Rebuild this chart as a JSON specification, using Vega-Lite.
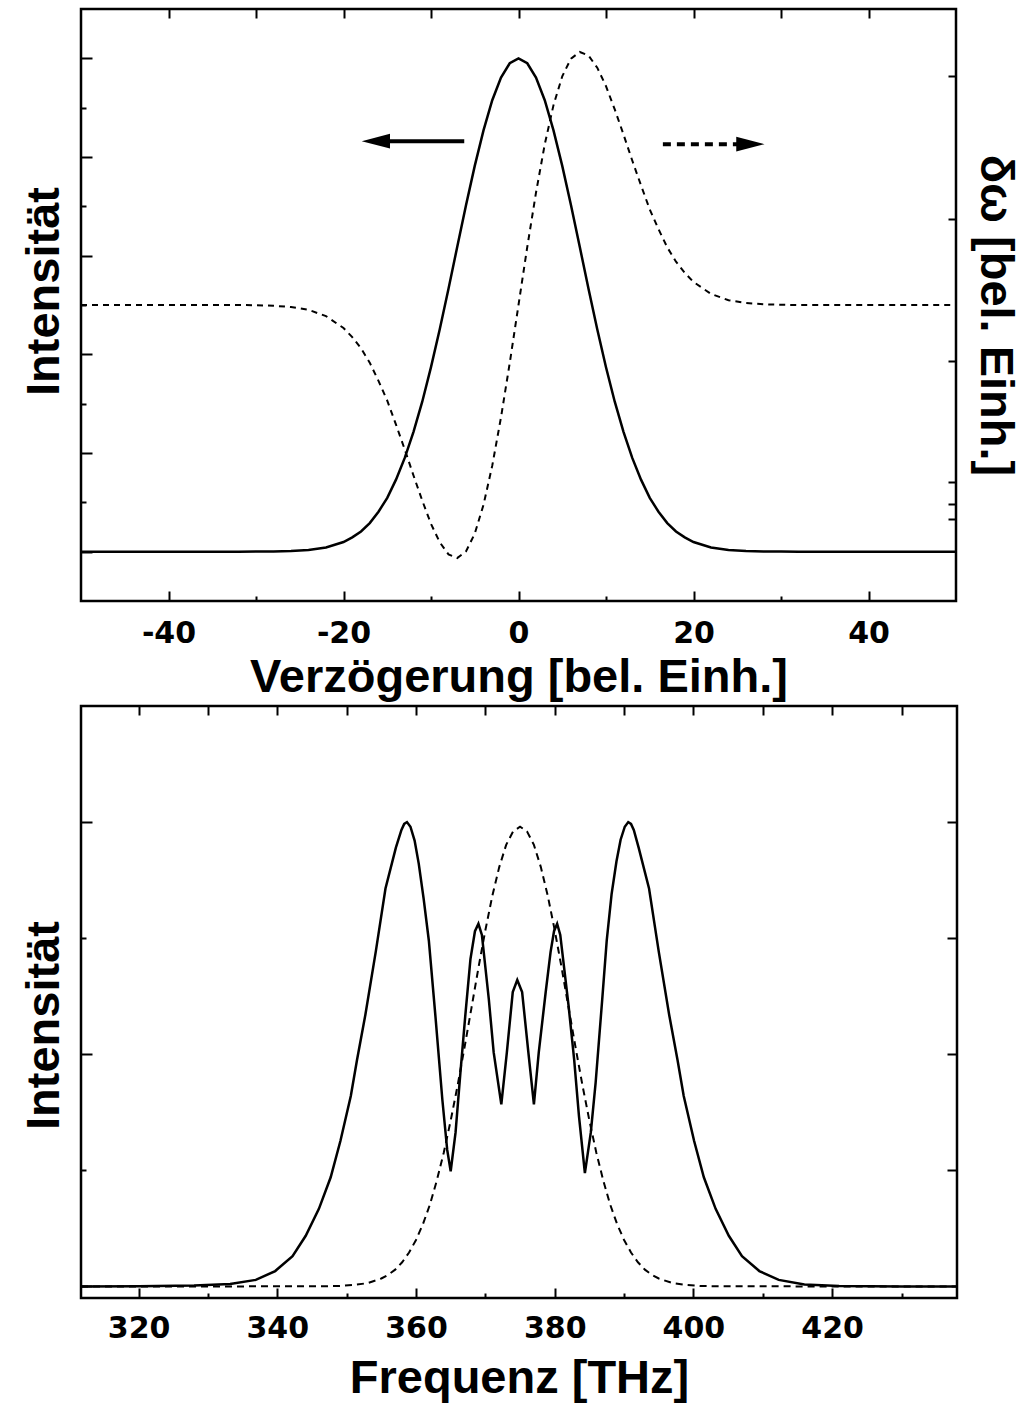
{
  "$schema": "https://vega.github.io/schema/vega-lite/v6.json",
  "padding": {"left": 18, "top": 6, "right": 5, "bottom": 5},
  "background": "white",
  "config": {
    "view": {"stroke": "black", "strokeWidth": 2.5},
    "axis": {
      "domain": false, "grid": false,
      "labelFont": "DejaVu Sans", "labelFontWeight": "bold", "labelFontSize": 30, "labelColor": "black",
      "titleFont": "Liberation Sans", "titleFontWeight": "bold", "titleFontSize": 47, "titleColor": "black",
      "tickColor": "black", "tickWidth": 2
    }
  },
  "datasets": {
    "puls": [
      {"t": -50, "I": 0, "dw": 0}, {"t": -45, "I": 0, "dw": 0}, {"t": -40, "I": 0, "dw": 0},
      {"t": -35, "I": 0, "dw": 0}, {"t": -32, "I": 0, "dw": 0}, {"t": -30, "I": 0.0001, "dw": -0.001},
      {"t": -28, "I": 0.0004, "dw": -0.003}, {"t": -26, "I": 0.0013, "dw": -0.008},
      {"t": -24, "I": 0.0035, "dw": -0.019}, {"t": -22, "I": 0.0086, "dw": -0.044},
      {"t": -20, "I": 0.0196, "dw": -0.091}, {"t": -19, "I": 0.029, "dw": -0.127},
      {"t": -18, "I": 0.041, "dw": -0.171}, {"t": -17, "I": 0.058, "dw": -0.228},
      {"t": -16, "I": 0.081, "dw": -0.300}, {"t": -15, "I": 0.109, "dw": -0.378},
      {"t": -14, "I": 0.146, "dw": -0.473}, {"t": -13, "I": 0.190, "dw": -0.571},
      {"t": -12, "I": 0.243, "dw": -0.674}, {"t": -11, "I": 0.304, "dw": -0.773},
      {"t": -10, "I": 0.374, "dw": -0.865}, {"t": -9, "I": 0.451, "dw": -0.938},
      {"t": -8, "I": 0.533, "dw": -0.986}, {"t": -7, "I": 0.618, "dw": -1.000},
      {"t": -6, "I": 0.702, "dw": -0.974}, {"t": -5, "I": 0.782, "dw": -0.904},
      {"t": -4, "I": 0.854, "dw": -0.790}, {"t": -3, "I": 0.915, "dw": -0.635},
      {"t": -2, "I": 0.961, "dw": -0.444}, {"t": -1, "I": 0.990, "dw": -0.229},
      {"t": 0, "I": 1.0, "dw": 0},
      {"t": 1, "I": 0.990, "dw": 0.229}, {"t": 2, "I": 0.961, "dw": 0.444},
      {"t": 3, "I": 0.915, "dw": 0.635}, {"t": 4, "I": 0.854, "dw": 0.790},
      {"t": 5, "I": 0.782, "dw": 0.904}, {"t": 6, "I": 0.702, "dw": 0.974},
      {"t": 7, "I": 0.618, "dw": 1.000}, {"t": 8, "I": 0.533, "dw": 0.986},
      {"t": 9, "I": 0.451, "dw": 0.938}, {"t": 10, "I": 0.374, "dw": 0.865},
      {"t": 11, "I": 0.304, "dw": 0.773}, {"t": 12, "I": 0.243, "dw": 0.674},
      {"t": 13, "I": 0.190, "dw": 0.571}, {"t": 14, "I": 0.146, "dw": 0.473},
      {"t": 15, "I": 0.109, "dw": 0.378}, {"t": 16, "I": 0.081, "dw": 0.300},
      {"t": 17, "I": 0.058, "dw": 0.228}, {"t": 18, "I": 0.041, "dw": 0.171},
      {"t": 19, "I": 0.029, "dw": 0.127}, {"t": 20, "I": 0.0196, "dw": 0.091},
      {"t": 22, "I": 0.0086, "dw": 0.044}, {"t": 24, "I": 0.0035, "dw": 0.019},
      {"t": 26, "I": 0.0013, "dw": 0.008}, {"t": 28, "I": 0.0004, "dw": 0.003},
      {"t": 30, "I": 0.0001, "dw": 0.001}, {"t": 32, "I": 0, "dw": 0},
      {"t": 35, "I": 0, "dw": 0}, {"t": 40, "I": 0, "dw": 0}, {"t": 45, "I": 0, "dw": 0},
      {"t": 50, "I": 0, "dw": 0}
    ],
    "schaefte": [
      {"t": -6.2, "I": 0.832, "art": "durchgezogen"},
      {"t": -14.9, "I": 0.832, "art": "durchgezogen"},
      {"t": 16.5, "I": 0.826, "art": "gestrichelt"},
      {"t": 25.1, "I": 0.826, "art": "gestrichelt"}
    ],
    "spitzen": [
      {"t": -16.3, "I": 0.832, "richtung": "links"},
      {"t": 26.5, "I": 0.826, "richtung": "rechts"}
    ],
    "spektrum": [
      {"f": 311.7, "I": 0}, {"f": 320, "I": 0.0005}, {"f": 328, "I": 0.002},
      {"f": 333.2, "I": 0.005}, {"f": 336.9, "I": 0.014}, {"f": 339.7, "I": 0.033},
      {"f": 342.2, "I": 0.065}, {"f": 344.1, "I": 0.109}, {"f": 346.0, "I": 0.167},
      {"f": 347.7, "I": 0.235}, {"f": 349.1, "I": 0.313}, {"f": 350.6, "I": 0.410},
      {"f": 351.5, "I": 0.488}, {"f": 352.7, "I": 0.585}, {"f": 354.2, "I": 0.721},
      {"f": 355.6, "I": 0.857}, {"f": 357.1, "I": 0.945}, {"f": 357.9, "I": 0.983},
      {"f": 358.3, "I": 0.996}, {"f": 358.7, "I": 1.0}, {"f": 359.2, "I": 0.99},
      {"f": 359.8, "I": 0.96}, {"f": 360.4, "I": 0.91}, {"f": 361.1, "I": 0.835},
      {"f": 361.85, "I": 0.745}, {"f": 362.8, "I": 0.582},
      {"f": 363.8, "I": 0.402}, {"f": 364.5, "I": 0.294}, {"f": 365.0, "I": 0.248},
      {"f": 365.7, "I": 0.331}, {"f": 366.4, "I": 0.460}, {"f": 367.1, "I": 0.582},
      {"f": 367.85, "I": 0.705}, {"f": 368.5, "I": 0.765}, {"f": 369.0, "I": 0.781},
      {"f": 369.5, "I": 0.757}, {"f": 370.5, "I": 0.618}, {"f": 371.2, "I": 0.504},
      {"f": 372.3, "I": 0.392}, {"f": 373.1, "I": 0.504}, {"f": 373.95, "I": 0.634},
      {"f": 374.6, "I": 0.660}, {"f": 375.3, "I": 0.634}, {"f": 376.2, "I": 0.504},
      {"f": 377.0, "I": 0.392}, {"f": 377.7, "I": 0.504}, {"f": 378.7, "I": 0.634},
      {"f": 379.4, "I": 0.720}, {"f": 379.9, "I": 0.765}, {"f": 380.35, "I": 0.781},
      {"f": 380.8, "I": 0.757}, {"f": 382.0, "I": 0.604},
      {"f": 382.8, "I": 0.489}, {"f": 383.5, "I": 0.366}, {"f": 384.35, "I": 0.244},
      {"f": 385.2, "I": 0.331}, {"f": 385.9, "I": 0.439}, {"f": 386.85, "I": 0.618},
      {"f": 387.5, "I": 0.745}, {"f": 388.2, "I": 0.845}, {"f": 388.9, "I": 0.915},
      {"f": 389.5, "I": 0.962}, {"f": 390.1, "I": 0.99}, {"f": 390.6, "I": 1.0},
      {"f": 391.0, "I": 0.996}, {"f": 391.4, "I": 0.983}, {"f": 392.1, "I": 0.945},
      {"f": 393.6, "I": 0.857}, {"f": 395.0, "I": 0.721}, {"f": 396.5, "I": 0.585},
      {"f": 397.7, "I": 0.488}, {"f": 398.6, "I": 0.410}, {"f": 400.1, "I": 0.313},
      {"f": 401.5, "I": 0.235}, {"f": 403.2, "I": 0.167}, {"f": 405.1, "I": 0.109},
      {"f": 407.0, "I": 0.065}, {"f": 409.5, "I": 0.033}, {"f": 412.3, "I": 0.014},
      {"f": 416.0, "I": 0.004}, {"f": 421.0, "I": 0.001}, {"f": 430.0, "I": 0},
      {"f": 438.0, "I": 0}
    ],
    "referenz": [
      {"f": 311.7, "I": 0}, {"f": 330, "I": 0}, {"f": 345, "I": 0.0001},
      {"f": 347, "I": 0.0003}, {"f": 349, "I": 0.001}, {"f": 351, "I": 0.003},
      {"f": 353, "I": 0.007}, {"f": 355, "I": 0.017}, {"f": 356, "I": 0.025},
      {"f": 357, "I": 0.036}, {"f": 358, "I": 0.052}, {"f": 359, "I": 0.073},
      {"f": 360, "I": 0.100}, {"f": 361, "I": 0.134}, {"f": 362, "I": 0.176},
      {"f": 363, "I": 0.228}, {"f": 364, "I": 0.288}, {"f": 365, "I": 0.357},
      {"f": 366, "I": 0.433}, {"f": 367, "I": 0.515}, {"f": 368, "I": 0.600},
      {"f": 369, "I": 0.686}, {"f": 370, "I": 0.767}, {"f": 371, "I": 0.841},
      {"f": 372, "I": 0.903}, {"f": 373, "I": 0.951}, {"f": 374, "I": 0.980},
      {"f": 375, "I": 0.990}, {"f": 376, "I": 0.980}, {"f": 377, "I": 0.951},
      {"f": 378, "I": 0.903}, {"f": 379, "I": 0.841}, {"f": 380, "I": 0.767},
      {"f": 381, "I": 0.686}, {"f": 382, "I": 0.600}, {"f": 383, "I": 0.515},
      {"f": 384, "I": 0.433}, {"f": 385, "I": 0.357}, {"f": 386, "I": 0.288},
      {"f": 387, "I": 0.228}, {"f": 388, "I": 0.176}, {"f": 389, "I": 0.134},
      {"f": 390, "I": 0.100}, {"f": 391, "I": 0.073}, {"f": 392, "I": 0.052},
      {"f": 393, "I": 0.036}, {"f": 394, "I": 0.025}, {"f": 395, "I": 0.017},
      {"f": 397, "I": 0.007}, {"f": 399, "I": 0.003}, {"f": 401, "I": 0.001},
      {"f": 403, "I": 0.0003}, {"f": 405, "I": 0.0001}, {"f": 420, "I": 0},
      {"f": 438, "I": 0}
    ]
  },
  "spacing": 1,
  "vconcat": [
    {
      "width": 875,
      "height": 592,
      "layer": [
        {
          "data": {"name": "puls"},
          "mark": {"type": "line", "color": "black", "strokeWidth": 2.5},
          "encoding": {
            "x": {"field": "t", "type": "quantitative",
              "scale": {"domain": [-50, 50], "nice": false, "zero": false},
              "axis": {"orient": "bottom", "values": [-40, -20, 0, 20, 40], "tickSize": -10,
                "labelExpr": "datum.value < 0 ? '-' + format(-datum.value, 'd') : format(datum.value, 'd')",
                "labelPadding": 27, "labelFlush": false, "title": "Verzögerung [bel. Einh.]", "titlePadding": 6}},
            "y": {"field": "I", "type": "quantitative",
              "scale": {"domain": [-0.1, 1.1], "nice": false, "zero": false},
              "axis": {"orient": "left", "labels": false, "values": [0, 0.2, 0.4, 0.6, 0.8, 1.0],
                "tickSize": -11, "title": "Intensität", "titlePadding": 12, "titleY": 282}}
          }
        },
        {
          "data": {"name": "puls"},
          "mark": {"type": "line", "color": "black", "strokeWidth": 2, "strokeDash": [6, 5]},
          "encoding": {
            "x": {"field": "t", "type": "quantitative",
              "scale": {"domain": [-50, 50], "nice": false, "zero": false},
              "axis": {"orient": "top", "labels": false, "values": [-40, -30, -20, -10, 0, 10, 20, 30, 40],
                "tickSize": -9, "title": null}},
            "y": {"field": "dw", "type": "quantitative",
              "scale": {"domain": [-1.17, 1.17], "nice": false, "zero": false},
              "axis": {"orient": "right", "labels": false, "values": [0.906, 0.341, -0.222, -0.7, -0.786, -0.844],
                "tickSize": -8, "title": "δω [bel. Einh.]", "titlePadding": 13, "titleY": 306}}
          }
        },
        {
          "data": {"name": "schaefte"},
          "mark": {"type": "line", "color": "black", "strokeWidth": 4},
          "encoding": {
            "x": {"field": "t", "type": "quantitative",
              "scale": {"domain": [-50, 50], "nice": false, "zero": false},
              "axis": {"orient": "bottom", "labels": false, "values": [-30, -10, 10, 30],
                "tickSize": -5, "title": null}},
            "y": {"field": "I", "type": "quantitative",
              "scale": {"domain": [-0.1, 1.1], "nice": false, "zero": false},
              "axis": {"orient": "left", "labels": false, "values": [0.1, 0.3, 0.5, 0.7, 0.9],
                "tickSize": -5, "title": null}},
            "detail": {"field": "art", "type": "nominal"},
            "strokeDash": {"field": "art", "type": "nominal",
              "scale": {"domain": ["durchgezogen", "gestrichelt"], "range": [[1, 0], [8, 6]]}, "legend": null}
          }
        },
        {
          "data": {"name": "spitzen"},
          "mark": {"type": "point", "filled": true, "color": "black", "opacity": 1, "size": 800},
          "encoding": {
            "x": {"field": "t", "type": "quantitative",
              "scale": {"domain": [-50, 50], "nice": false, "zero": false}, "axis": null},
            "y": {"field": "I", "type": "quantitative",
              "scale": {"domain": [-0.1, 1.1], "nice": false, "zero": false}, "axis": null},
            "shape": {"field": "richtung", "type": "nominal",
              "scale": {"domain": ["links", "rechts"], "range": ["M-1,0L1,-0.52L1,0.52Z", "M1,0L-1,-0.52L-1,0.52Z"]},
              "legend": null}
          }
        }
      ],
      "resolve": {"scale": {"y": "independent"}, "axis": {"x": "independent", "y": "independent"}}
    },
    {
      "width": 876,
      "height": 592,
      "layer": [
        {
          "data": {"name": "spektrum"},
          "mark": {"type": "line", "color": "black", "strokeWidth": 2.5},
          "encoding": {
            "x": {"field": "f", "type": "quantitative",
              "scale": {"domain": [311.7, 438.0], "nice": false, "zero": false},
              "axis": {"orient": "bottom", "values": [320, 340, 360, 380, 400, 420], "tickSize": -10,
                "labelPadding": 25, "labelFlush": false, "title": "Frequenz [THz]", "titlePadding": 12}},
            "y": {"field": "I", "type": "quantitative",
              "scale": {"domain": [-0.025, 1.25], "nice": false, "zero": false},
              "axis": {"orient": "left", "labels": false, "values": [0, 0.5, 1.0],
                "tickSize": -11, "title": "Intensität", "titlePadding": 12, "titleY": 319}}
          }
        },
        {
          "data": {"name": "referenz"},
          "mark": {"type": "line", "color": "black", "strokeWidth": 2, "strokeDash": [7, 5]},
          "encoding": {
            "x": {"field": "f", "type": "quantitative",
              "scale": {"domain": [311.7, 438.0], "nice": false, "zero": false},
              "axis": {"orient": "top", "labels": false, "values": [320, 330, 340, 350, 360, 370, 380, 390, 400, 410, 420, 430],
                "tickSize": -9, "title": null}},
            "y": {"field": "I", "type": "quantitative",
              "scale": {"domain": [-0.025, 1.25], "nice": false, "zero": false},
              "axis": {"orient": "right", "labels": false, "values": [0.25, 0.5, 0.75, 1.0],
                "tickSize": -10, "title": null}}
          }
        },
        {
          "data": {"name": "referenz"},
          "mark": {"type": "line", "color": "black", "strokeWidth": 1, "strokeOpacity": 0},
          "encoding": {
            "x": {"field": "f", "type": "quantitative",
              "scale": {"domain": [311.7, 438.0], "nice": false, "zero": false},
              "axis": {"orient": "bottom", "labels": false, "values": [330, 350, 370, 390, 410, 430],
                "tickSize": -5, "title": null}},
            "y": {"field": "I", "type": "quantitative",
              "scale": {"domain": [-0.025, 1.25], "nice": false, "zero": false},
              "axis": {"orient": "left", "labels": false, "values": [0.25, 0.75],
                "tickSize": -5, "title": null}}
          }
        }
      ],
      "resolve": {"axis": {"x": "independent", "y": "independent"}}
    }
  ]
}
